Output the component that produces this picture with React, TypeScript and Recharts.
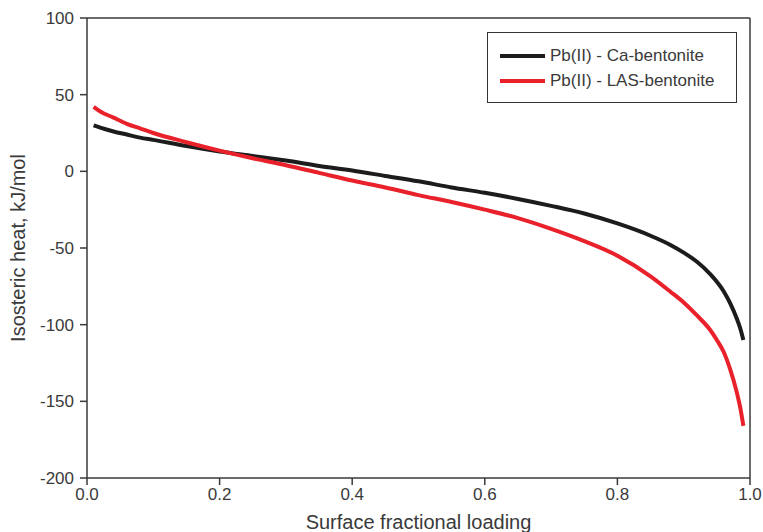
import React from "react"
import { LineChart, Line, XAxis, YAxis, ReferenceLine, Label } from "recharts"

// surface fractional loading (theta)
const loading = [0.01, 0.02, 0.04, 0.06, 0.08, 0.1, 0.15, 0.2, 0.25, 0.3, 0.35, 0.4, 0.45, 0.5, 0.55, 0.6, 0.65, 0.7, 0.75, 0.8, 0.85, 0.88, 0.9, 0.92, 0.94, 0.95, 0.96, 0.97, 0.98, 0.985, 0.99]

// isosteric heat, kJ/mol
const caBentonite = [30, 28.5, 26, 24, 22, 20.5, 16.5, 13, 10, 7, 3.5, 0.5, -3, -6.5, -10.5, -14, -18, -22.5, -27.5, -34, -42, -48, -53, -59, -67, -72, -78, -86, -96, -102, -110]
const lasBentonite = [42, 39, 35, 31, 28, 25, 19, 13.5, 8.5, 4, -1, -6, -10.5, -15.5, -20, -25, -30.5, -37.5, -45.5, -55, -68.5, -78.5, -85.5, -94, -103.5, -110, -117.5, -129, -144, -153.5, -166]

const xTicks = [0, 0.2, 0.4, 0.6, 0.8, 1.0]
const yTicks = [-200, -150, -100, -50, 0, 50, 100]

const seriesNames = ["Pb(II) - Ca-bentonite", "Pb(II) - LAS-bentonite"]
const seriesColors = ["#1c1c1c", "#e8212b"]

const FONT = "'Liberation Sans', Arial, sans-serif"
const AXIS = "#3a3a3a"

const data = loading.map((x, i) => ({ x, ca: caBentonite[i], las: lasBentonite[i] }))

function LegendBox() {
  return (
    <div style={{ position: "absolute", left: 487, top: 32, border: "1.3px solid #333", width: 250, height: 71, boxSizing: "border-box", paddingTop: 10, paddingLeft: 12, fontFamily: FONT, fontSize: 17, color: "#3a3a3a", background: "white" }}>
      {seriesNames.map((n, i) => (
        <div key={n} style={{ display: "flex", alignItems: "center", height: 25 }}>
          <span style={{ display: "inline-block", width: 45, height: 4, background: seriesColors[i], marginRight: 5 }} />
          <span>{n}</span>
        </div>
      ))}
    </div>
  )
}

export default function App() {
  return (
    <div style={{ position: "absolute", left: 0, top: 0, width: 763, height: 532, background: "white" }}>
      <LineChart width={763} height={532} data={data} margin={{ top: 18, right: 13, left: 0, bottom: 0 }}>
        <XAxis
          dataKey="x"
          type="number"
          domain={[0, 1]}
          ticks={xTicks}
          tickFormatter={(v: number) => v.toFixed(1)}
          height={54}
          tickSize={7}
          tickMargin={3}
          stroke={AXIS}
          strokeWidth={1.5}
          tick={{ fontSize: 17, fill: AXIS, fontFamily: FONT }}
        >
          <Label value="Surface fractional loading" position="insideBottom" offset={3} style={{ fontSize: 20, fill: AXIS, fontFamily: FONT }} />
        </XAxis>
        <YAxis
          type="number"
          domain={[-200, 100]}
          ticks={yTicks}
          width={87}
          tickSize={7}
          tickMargin={6}
          stroke={AXIS}
          strokeWidth={1.5}
          tick={{ fontSize: 17, fill: AXIS, fontFamily: FONT }}
        >
          <Label value="Isosteric heat, kJ/mol" angle={-90} position="insideLeft" offset={18} style={{ fontSize: 20, fill: AXIS, fontFamily: FONT, textAnchor: "middle" }} />
        </YAxis>
        <ReferenceLine y={100} stroke={AXIS} strokeWidth={1.5} />
        <ReferenceLine x={1} stroke={AXIS} strokeWidth={1.5} />
        <Line type="monotone" dataKey="ca" name={seriesNames[0]} stroke={seriesColors[0]} strokeWidth={4} dot={false} isAnimationActive={false} />
        <Line type="monotone" dataKey="las" name={seriesNames[1]} stroke={seriesColors[1]} strokeWidth={4} dot={false} isAnimationActive={false} />
      </LineChart>
      <LegendBox />
    </div>
  )
}
